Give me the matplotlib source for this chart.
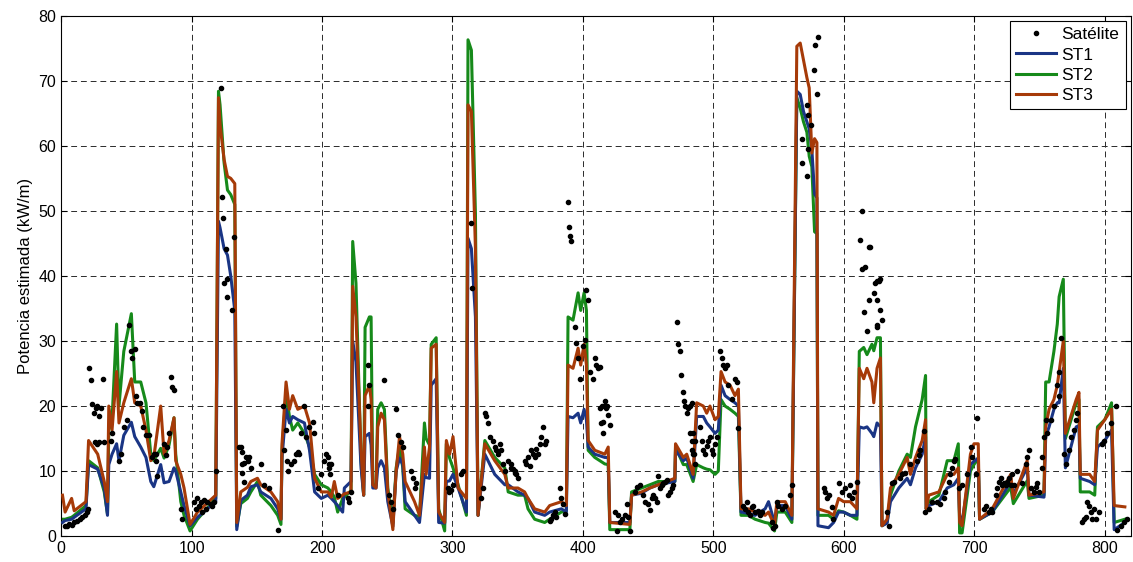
"""Potencia estimada: satélite frente a ST1, ST2 y ST3."""

import matplotlib

matplotlib.use("Agg")
import matplotlib.pyplot as plt

# Nodos de las series estimadas (eje x compartido)
KNOT_X = [
    1.0, 3.0, 8.0, 10.0, 19.0, 21.0, 28.0, 33.0, 35.5, 36.5, 39.0, 42.5, 44.3, 48.0,
    53.8, 56.4, 61.0, 65.0, 68.7, 71.0, 76.3, 78.9, 82.7, 86.5, 87.8, 91.7, 94.2, 98.8,
    104.5, 118.5, 120.6, 121.8, 124.9, 127.5, 130.0, 133.1, 134.6, 137.7, 142.8, 145.4,
    150.5, 153.0, 160.8, 166.0, 168.5, 169.3, 172.4, 175.0, 177.5, 181.4, 186.5, 190.4,
    194.3, 199.4, 204.5, 207.1, 209.4, 212.0, 215.8, 217.1, 222.2, 223.5, 226.0, 229.9,
    231.9, 233.0, 236.3, 237.6, 238.9, 241.4, 242.7, 245.3, 247.8, 250.4, 254.3, 256.8,
    259.4, 261.9, 263.7, 270.9, 274.7, 278.5, 279.8, 282.4, 283.7, 287.5, 289.4, 294.0,
    295.3, 297.8, 300.4, 304.3, 310.7, 311.9, 314.5, 317.6, 319.6, 324.8, 332.4, 340.1,
    342.7, 350.2, 355.3, 357.9, 363.0, 370.7, 374.5, 383.5, 387.3, 388.6, 392.4, 396.3,
    398.3, 400.9, 402.7, 404.0, 409.1, 416.8, 419.4, 420.6, 436.0, 437.3, 445.0, 451.3,
    457.7, 470.5, 471.0, 477.0, 479.6, 484.5, 487.2, 492.3, 494.9, 497.4, 501.3, 503.8,
    505.9, 509.0, 512.8, 516.6, 519.2, 521.2, 526.9, 532.0, 539.7, 542.3, 546.9, 548.7,
    555.1, 560.2, 564.0, 566.6, 569.1, 571.7, 573.5, 575.5, 577.6, 579.4, 580.2, 588.3,
    592.2, 596.0, 599.9, 605.0, 610.1, 611.9, 615.3, 617.8, 621.6, 623.0, 625.5, 628.1,
    629.3, 633.2, 635.8, 642.2, 648.6, 651.1, 655.0, 660.1, 662.7, 663.2, 665.2, 672.9,
    679.3, 684.4, 687.8, 688.8, 690.7, 697.1, 699.8, 703.1, 704.1, 713.8, 728.0, 730.0,
    740.6, 742.0, 753.5, 754.8, 757.4, 761.1, 763.7, 765.1, 768.3, 769.9, 778.2, 780.3,
    781.3, 788.5, 792.4, 794.5, 800.1, 805.3, 807.3, 815.5,
]
ST1 = [
    2.1, 2.4, 2.6, 2.9, 4.2, 11.0, 10.3, 7.4, 3.2, 11.0, 12.6, 14.2, 11.6, 15.5,
    17.5, 15.3, 13.7, 12.1, 8.4, 7.6, 11.0, 8.2, 8.4, 10.5, 10.0, 6.8, 4.7, 1.6,
    2.9, 5.3, 48.4, 47.4, 44.2, 43.2, 40.0, 34.7, 1.0, 5.5, 6.3, 7.6,
    7.9, 6.8, 5.8, 4.2, 2.6, 12.1, 19.5, 17.4, 18.4, 17.9, 17.4, 13.2,
    6.8, 5.8, 6.3, 5.8, 5.3, 4.7, 3.7, 7.4, 8.4, 30.0, 26.8, 10.5,
    6.3, 15.3, 15.8, 14.0, 7.4, 7.4, 10.5, 11.6, 10.5, 5.3, 1.5, 10.0,
    12.0, 11.0, 5.3, 3.2, 2.1, 9.5, 9.0, 8.9, 23.2, 24.2, 2.1, 2.0,
    8.4, 8.5, 9.5, 7.4, 3.7, 45.8, 44.2, 33.7, 3.2, 12.6, 9.5, 7.9,
    7.9, 6.8, 6.3, 5.8, 3.7, 3.2, 3.7, 4.2, 3.7, 18.4, 18.2, 18.9,
    17.4, 19.5, 17.9, 13.7, 12.6, 12.1, 12.1, 2.1, 2.1, 6.3, 6.6, 7.4,
    7.9, 8.4, 13.2, 11.6, 12.0, 8.9, 18.4, 18.4, 17.4, 16.8, 15.8, 16.3,
    23.2, 21.6, 21.0, 20.5, 20.0, 3.7, 3.5, 3.2, 4.2, 5.3, 2.1, 4.7,
    4.7, 2.6, 68.4, 67.9, 65.3, 63.7, 62.6, 59.5, 52.6, 52.0, 1.6, 1.3,
    2.1, 3.7, 3.7, 3.2, 3.2, 16.8, 16.6, 16.8, 15.8, 15.3, 17.4, 16.8,
    1.6, 2.0, 5.3, 7.4, 8.9, 7.9, 10.5, 12.6, 15.3, 4.2, 4.7, 5.3,
    7.4, 7.9, 8.9, 3.2, 2.1, 11.0, 11.5, 12.0, 2.6, 3.7, 8.4, 6.5,
    10.5, 6.3, 6.0, 15.3, 16.8, 19.5, 20.5, 20.5, 25.8, 10.5, 16.8, 17.0,
    8.9, 8.4, 7.9, 13.7, 14.7, 16.3, 1.0, 2.1,
]
ST2 = [
    2.6, 2.6, 2.9, 3.2, 4.7, 11.6, 10.5, 6.8, 3.4, 16.3, 17.9, 32.6, 20.0, 28.4,
    34.2, 23.7, 23.7, 20.5, 12.6, 11.6, 13.5, 12.0, 14.0, 18.2, 12.6, 5.3, 3.2, 0.8,
    2.6, 5.8, 68.4, 66.3, 57.4, 53.2, 52.5, 51.0, 1.5, 5.0, 5.8, 6.8,
    8.4, 6.3, 4.7, 3.2, 1.8, 13.2, 22.1, 18.4, 16.3, 17.4, 15.8, 13.7,
    9.5, 7.9, 7.4, 6.8, 6.0, 3.7, 5.8, 6.0, 7.0, 45.3, 38.9, 11.6,
    6.3, 32.1, 33.7, 33.7, 7.9, 7.8, 19.5, 20.5, 19.5, 7.4, 2.0, 10.5,
    13.7, 10.5, 4.2, 3.2, 3.0, 17.4, 15.0, 14.0, 29.5, 30.5, 4.2, 0.8,
    14.2, 12.0, 10.5, 7.9, 3.2, 76.3, 74.7, 49.5, 3.2, 14.7, 12.1, 10.5,
    6.8, 6.3, 6.3, 4.2, 2.6, 2.1, 2.6, 3.7, 3.9, 33.7, 33.2, 37.4,
    34.7, 37.4, 34.7, 13.2, 12.1, 11.1, 11.0, 1.0, 1.0, 6.8, 7.4, 7.9,
    8.4, 8.4, 13.7, 11.0, 11.0, 8.4, 11.0, 10.5, 10.3, 10.2, 9.5, 10.0,
    21.0, 20.0, 19.5, 18.9, 18.4, 3.2, 3.2, 2.6, 2.1, 2.0, 0.8, 3.7,
    3.7, 2.1, 67.4, 65.8, 63.7, 62.1, 58.4, 56.8, 46.8, 46.5, 3.2, 3.2,
    2.6, 3.9, 3.7, 3.2, 2.6, 28.4, 29.0, 27.9, 29.5, 28.5, 30.5, 30.5,
    1.6, 2.1, 6.3, 10.0, 12.6, 12.1, 16.8, 21.0, 24.7, 4.2, 5.3, 6.3,
    11.6, 11.6, 14.2, 0.5, 0.5, 10.0, 11.0, 12.0, 2.6, 3.7, 7.5, 5.0,
    8.5, 5.8, 6.3, 23.7, 23.7, 28.4, 32.6, 36.8, 39.5, 15.0, 20.5, 21.0,
    6.8, 6.8, 6.3, 16.8, 17.9, 20.5, 2.1, 2.6,
]
ST3 = [
    6.3, 3.7, 5.8, 3.9, 5.3, 14.7, 12.6, 8.4, 5.3, 20.0, 16.3, 25.3, 17.4, 20.5,
    24.2, 20.5, 20.0, 16.3, 11.6, 12.1, 20.0, 12.6, 14.7, 18.2, 11.6, 9.5, 7.4, 1.8,
    3.7, 6.3, 67.4, 63.2, 57.9, 55.3, 55.0, 54.2, 2.1, 6.8, 7.5, 8.4,
    8.9, 7.9, 6.8, 5.3, 2.6, 14.2, 23.7, 19.5, 21.6, 19.5, 20.0, 17.4,
    8.9, 6.8, 6.8, 6.0, 8.4, 5.8, 6.3, 6.5, 6.8, 38.4, 33.7, 13.2,
    6.3, 21.6, 23.2, 21.0, 7.9, 7.4, 16.8, 18.9, 17.9, 6.8, 1.0, 10.0,
    15.3, 12.6, 8.4, 5.3, 3.2, 13.7, 9.5, 13.7, 28.9, 29.5, 3.7, 2.1,
    14.7, 12.6, 15.3, 7.4, 5.8, 66.3, 65.3, 44.2, 3.2, 14.2, 11.6, 9.5,
    7.4, 7.4, 6.8, 5.8, 4.2, 3.7, 4.7, 5.3, 4.7, 26.3, 25.8, 28.9,
    26.3, 29.5, 26.3, 14.7, 13.2, 12.6, 13.7, 2.1, 1.8, 6.3, 6.8, 7.4,
    7.9, 8.9, 14.2, 12.1, 12.6, 9.5, 20.5, 20.0, 18.9, 20.0, 17.9, 18.4,
    25.3, 23.7, 23.2, 21.6, 22.6, 4.2, 4.2, 3.7, 3.2, 3.7, 1.6, 5.3,
    5.3, 3.2, 75.3, 75.8, 73.2, 70.5, 68.9, 58.9, 61.1, 60.5, 4.2, 3.7,
    3.2, 5.8, 5.3, 5.3, 4.2, 25.8, 24.2, 25.8, 23.7, 20.5, 25.8, 27.4,
    1.6, 2.6, 7.4, 9.5, 12.1, 9.5, 12.1, 14.7, 17.9, 4.2, 6.3, 6.8,
    9.5, 9.5, 10.5, 2.1, 1.6, 12.6, 14.2, 14.2, 2.6, 4.2, 9.5, 5.8,
    11.6, 6.3, 6.8, 16.8, 19.5, 21.0, 23.2, 25.3, 30.0, 15.8, 21.0, 22.1,
    9.5, 9.5, 8.4, 16.3, 17.9, 19.5, 4.7, 4.5,
]

# Observaciones de satélite
SAT_X = [
    2.6, 4.1, 5.9, 8.4, 10.2, 12.3, 14.3, 16.1, 17.9, 19.5, 20.7,
    21.2, 22.5, 23.3, 25.1, 26.4, 27.6, 28.9, 30.2, 32.3, 25.6, 27.1, 28.9, 32.8, 37.9,
    39.2, 44.3, 45.6, 48.1, 50.7, 52.0, 53.2, 54.5, 56.6, 57.1, 58.4, 60.4, 62.2, 63.0,
    64.8, 71.2, 72.5,
    67.3, 69.9, 72.5, 73.7, 78.9, 80.1, 81.4, 82.7, 84.0, 84.7, 86.5, 91.7, 92.9, 101.9,
    103.2, 104.5, 105.7, 107.0, 108.3, 109.6, 110.9, 112.1, 114.7, 116.0, 117.3, 118.5,
    122.4, 123.1, 124.4, 126.5, 124.9, 127.5, 127.0, 131.3, 132.6, 137.7, 139.0, 140.3,
    139.0, 141.6,
    136.5, 139.0, 140.3, 142.9, 144.2, 145.4, 153.1, 155.7, 159.5, 165.9, 169.8, 172.3,
    171.0, 173.1, 173.6, 176.2, 178.7, 180.0, 181.3, 182.6, 183.8, 186.4, 187.7, 190.2,
    192.8, 194.1, 196.6, 199.2, 201.8, 203.0, 204.3, 205.6,
    205.6, 206.9, 206.3, 212.0, 219.7, 221.0, 222.2, 235.0, 235.5, 236.3, 247.8, 251.7,
    252.9, 254.2, 256.8, 258.1, 260.6, 261.9, 268.3, 269.6, 270.9, 272.1,
    296.4, 297.7, 299.0, 300.3, 306.7, 308.0, 314.4, 314.9, 322.0, 323.3, 324.6, 325.9,
    327.2, 328.4, 331.0, 332.3, 333.6, 334.8, 336.1, 337.4, 338.7, 340.0, 342.5, 345.1,
    347.6, 348.9,
    345.1, 346.3, 347.6, 350.2, 355.3, 356.6, 357.9, 359.1, 360.4, 361.7, 363.0, 364.3,
    365.5, 366.8, 368.1, 369.4, 370.7, 371.9, 374.5, 375.8, 377.1, 378.3, 379.6, 382.2,
    383.5, 384.7, 386.0, 388.6, 389.1, 389.9, 391.1, 393.7, 395.0, 396.3, 397.5, 400.1,
    401.4, 402.7, 403.9, 405.2, 407.8, 409.1, 410.3, 411.6, 412.9, 414.2, 415.5, 416.7,
    418.0,
    413.0, 414.3, 415.5, 416.8, 418.1, 419.4, 420.7, 424.5, 425.8, 427.1, 428.3, 429.6,
    432.2, 433.5, 434.7, 436.0, 439.9, 441.1, 443.7, 446.3, 447.5, 450.1, 451.4, 452.7,
    453.9, 455.2, 456.5, 457.8, 459.1, 460.3, 461.6, 462.9, 464.2, 465.5, 466.7, 468.0,
    469.3, 471.9, 473.1, 474.4, 475.2, 477.0, 477.5, 478.3, 479.5, 480.8, 482.1, 483.4,
    484.7, 485.9,
    482.1, 483.4, 484.6, 483.8, 485.2, 485.9, 489.8, 491.0, 492.3, 493.6, 494.9, 496.2,
    497.4, 498.7, 500.0, 501.3, 502.6, 505.1, 506.4, 507.7, 509.0, 510.2, 511.5, 514.1,
    516.6, 517.9, 518.7, 523.0, 524.3, 525.6, 526.9, 528.2, 529.4, 530.7, 532.0, 534.6,
    535.8, 537.1, 544.8, 546.1, 547.4, 548.6, 549.9, 552.5, 555.0,
    558.9, 560.1, 567.8, 567.8, 571.7, 571.7, 572.9, 572.9, 575.0, 576.8, 578.1, 580.1,
    579.3, 584.5, 585.7, 587.0, 588.3, 590.9, 592.1, 596.0, 598.5, 601.1, 603.7, 604.9,
    606.2, 607.5, 610.1, 612.6, 613.9, 619.0, 613.9, 616.5, 619.0, 622.9, 615.2, 617.7,
    625.4, 625.4,
    620.3, 624.1, 625.4, 626.7, 628.0, 628.0, 629.2, 625.4, 633.1, 634.4, 636.9, 638.2,
    643.3, 644.6, 647.2, 651.0, 656.1, 657.4, 658.7, 661.2, 662.5, 665.1, 667.6, 671.5,
    674.0, 676.6, 677.9, 680.4, 681.7, 683.0, 684.3, 685.6, 688.1, 690.7, 694.5,
    697.2, 698.4, 701.0, 702.3, 707.4, 708.7, 711.2, 712.5, 713.8, 716.4, 717.6, 718.9,
    720.2, 721.5, 722.8, 724.0, 725.3, 726.6, 727.9, 729.2, 730.4, 733.0, 736.8, 739.4,
    740.7, 742.0, 743.2, 745.8, 747.1, 748.4, 749.6, 751.7, 752.2, 753.5, 754.8,
    756.1, 758.6, 761.2, 763.7, 765.0, 766.3, 765.0, 768.9, 770.1, 772.7, 774.0, 776.5,
    777.8, 779.1, 783.0, 784.2, 785.5, 786.8, 788.1, 789.3, 790.6, 791.9, 793.2, 795.7,
    798.3, 799.6, 802.1, 804.7, 808.5, 809.8, 812.4, 814.9, 817.5,
]
SAT_Y = [
    1.6, 1.5, 1.8, 1.7, 2.1, 2.4, 2.6, 2.9, 3.3, 3.7, 4.2,
    25.8, 24.0, 20.3, 19.0, 19.7, 20.0, 18.4, 19.7, 24.2, 14.5, 14.2, 14.5, 14.5, 14.7,
    15.8, 11.6, 12.6, 16.8, 17.9, 32.4, 28.4, 27.4, 28.7, 21.6, 20.5, 20.5, 19.2, 16.8,
    15.5, 12.6, 11.6,
    15.5, 12.1, 12.6, 9.2, 14.2, 12.4, 13.7, 15.8, 24.5, 22.9, 22.5, 4.2, 2.6, 5.3,
    4.2, 5.8, 4.7, 5.3, 3.7, 5.5, 4.2, 5.3, 5.0, 4.7, 5.3, 10.0,
    68.9, 52.1, 48.9, 44.2, 38.9, 39.5, 36.8, 34.7, 46.0, 13.7, 12.9, 11.3,
    9.7, 12.1,
    13.7, 11.1, 8.4, 11.6, 12.1, 10.5, 11.1, 7.9, 7.4, 1.0, 20.0, 16.3,
    13.2, 11.6, 10.0, 11.1, 11.6, 12.6, 12.9, 12.6, 15.8, 20.0, 15.3, 16.8,
    17.6, 15.8, 7.4, 9.5, 11.6, 12.6, 12.1, 11.1,
    10.5, 11.1, 9.5, 6.3, 5.8, 5.3, 6.8, 26.3, 20.0, 23.2, 24.0, 6.3,
    5.3, 4.2, 19.5, 15.5, 14.5, 13.7, 10.0, 8.9, 7.4, 8.2,
    7.4, 6.8, 7.1, 7.9, 9.5, 10.0, 48.2, 38.2, 5.8, 7.4, 18.9, 18.4,
    17.4, 15.3, 14.7, 13.7, 13.2, 12.6, 14.2, 13.2, 11.1, 10.0, 11.6, 10.5,
    10.0, 9.5,
    11.1, 10.3, 9.7, 8.9, 11.6, 11.1, 12.1, 10.8, 13.2, 12.6, 12.1, 13.4,
    12.6, 14.2, 15.3, 16.8, 14.2, 14.7, 2.4, 2.6, 3.2, 3.7, 2.9, 7.4,
    5.8, 5.0, 3.4, 51.3, 47.6, 46.1, 45.3, 32.1, 29.7, 27.4, 24.2, 29.2,
    30.2, 37.9, 36.3, 25.3, 24.2, 27.4, 26.3, 25.8, 19.7, 17.4, 15.8, 20.0,
    19.7,
    26.0, 20.0, 17.6, 20.8, 20.0, 18.7, 17.1, 3.7, 0.8, 3.2, 2.1, 2.6,
    3.2, 5.0, 2.9, 0.8, 6.8, 7.6, 7.9, 6.3, 5.3, 5.0, 4.0, 5.8,
    6.3, 5.8, 5.3, 9.2, 7.4, 7.9, 8.2, 8.4, 8.7, 6.3, 6.8, 7.4,
    7.9, 32.9, 29.5, 28.4, 24.7, 22.1, 20.8, 20.0, 18.9, 19.7, 15.8, 14.7,
    12.6, 14.7,
    20.0, 20.5, 15.8, 13.2, 12.6, 11.1, 16.8, 14.7, 13.2, 12.6, 13.9, 14.7,
    15.3, 13.2, 12.6, 14.2, 15.3, 28.4, 27.4, 26.3, 25.8, 26.3, 23.2, 21.1,
    24.2, 23.7, 16.6, 4.7, 4.2, 5.3, 3.7, 3.2, 4.5, 4.7, 3.7, 3.9,
    3.2, 3.7, 2.1, 1.3, 1.6, 5.3, 4.7, 4.2, 4.7,
    6.3, 7.9, 61.1, 57.4, 66.3, 55.3, 64.7, 59.5, 63.2, 71.6, 75.5, 76.8,
    67.9, 7.4, 6.8, 5.8, 6.3, 4.5, 2.6, 8.2, 6.8, 7.4, 6.3, 7.9,
    5.8, 6.8, 8.4, 45.5, 50.0, 44.5, 41.0, 41.3, 36.3, 37.4, 34.5, 31.6,
    39.2, 32.4,
    44.5, 38.9, 36.3, 39.2, 39.5, 34.7, 33.2, 32.1, 3.7, 1.6, 8.2, 8.4,
    8.9, 9.5, 9.7, 11.1, 11.6, 12.4, 13.2, 16.1, 3.7, 4.2, 5.3, 5.3,
    5.0, 5.8, 6.8, 8.4, 9.5, 10.5, 11.6, 11.8, 7.4, 7.9, 9.5,
    13.7, 12.1, 9.5, 18.2, 4.2, 4.7, 3.7, 4.2, 3.7, 6.3, 7.4, 8.4,
    8.9, 7.9, 8.2, 7.9, 8.4, 8.9, 7.9, 9.5, 7.9, 10.0, 8.2, 11.1,
    12.1, 13.2, 7.4, 6.8, 7.6, 8.2, 6.8, 12.1, 10.5, 15.3, 17.9,
    15.8, 17.9, 20.0, 23.2, 25.3, 30.5, 21.6, 12.6, 11.1, 13.2, 15.3, 16.3,
    17.9, 18.9, 2.1, 2.6, 2.9, 5.3, 4.7, 3.7, 2.6, 4.2, 2.6, 3.7,
    14.2, 14.7, 15.8, 17.4, 20.0, 1.0, 1.6, 2.1, 2.6,
]

X_TICKS = [0, 100, 200, 300, 400, 500, 600, 700, 800]
Y_TICKS = [0, 10, 20, 30, 40, 50, 60, 70, 80]


def main() -> None:
    plt.rcParams["font.family"] = ["Liberation Sans", "DejaVu Sans"]
    fig = plt.figure(figsize=(11.33, 5.62), dpi=100)
    ax = fig.add_axes([0.054, 0.046, 0.944, 0.926])

    ax.plot(SAT_X, SAT_Y, linestyle="none", marker="o", markersize=3.0,
            color="black", label="Satélite", zorder=4)
    ax.plot(KNOT_X, ST1, color="#1a3585", linewidth=2.2, label="ST1", zorder=3)
    ax.plot(KNOT_X, ST2, color="#168a1a", linewidth=2.2, label="ST2", zorder=2)
    ax.plot(KNOT_X, ST3, color="#a63a08", linewidth=2.2, label="ST3", zorder=3)

    ax.set_xlim(0, 820)
    ax.set_ylim(0, 80)
    ax.set_xticks(X_TICKS)
    ax.set_yticks(Y_TICKS)
    ax.tick_params(direction="in", top=True, right=True, labelsize=11.5, length=4)
    ax.grid(True, color="#2a2a2a", linestyle=(0, (6, 4)), linewidth=0.7)
    for spine in ax.spines.values():
        spine.set_linewidth(0.8)
    ax.set_ylabel("Potencia estimada (kW/m)", fontsize=12, labelpad=4)

    leg = ax.legend(loc="upper right", fontsize=12.5, fancybox=False, framealpha=1,
                    edgecolor="black", borderaxespad=0.3, borderpad=0.35,
                    handlelength=2.3, handletextpad=0.3, labelspacing=0.3)
    leg.get_frame().set_linewidth(0.8)

    fig.savefig("out.png", dpi=100)
    plt.close(fig)


if __name__ == "__main__":
    main()
